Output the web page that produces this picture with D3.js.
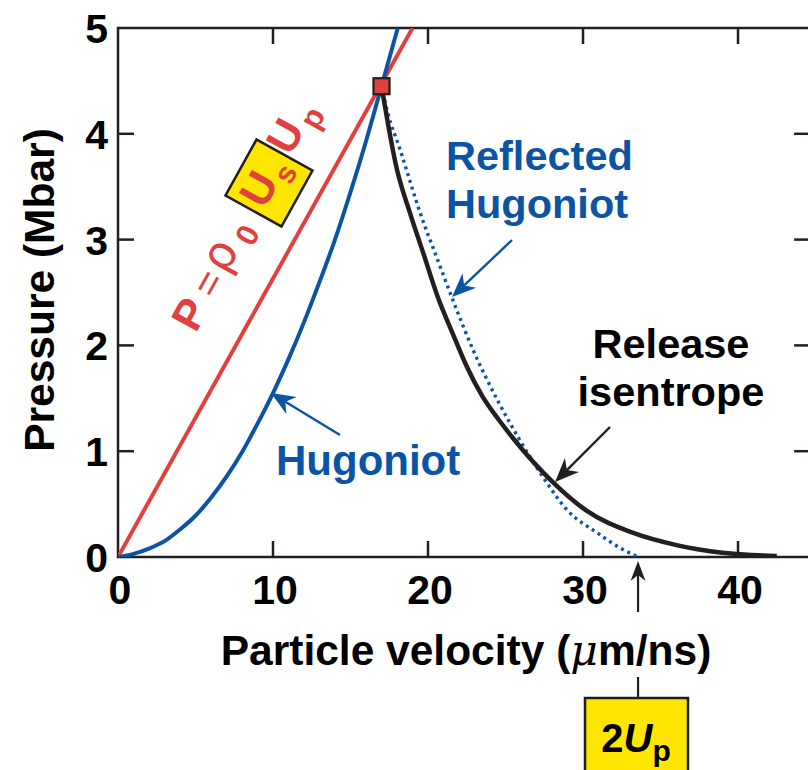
<!DOCTYPE html>
<html><head><meta charset="utf-8">
<script src="https://cdn.jsdelivr.net/npm/d3@7"></script>
<style>
body{margin:0;background:#fff;}
svg{display:block;font-family:"Liberation Sans",Arial,Helvetica,sans-serif;}
</style></head>
<body>
<svg id="c" width="808" height="770"></svg>
<script>
// ---- data ----
const xTicks = [0, 10, 20, 30, 40];
const yTicks = [0, 1, 2, 3, 4, 5];
const lineUp = [0, 19.0];          // P = rho0 Us Up (straight line)
const lineP  = [0, 5.0];
const hugUp = [0, 1, 2, 3, 4, 5, 6, 7, 8, 9, 10, 11, 12, 13, 14, 15, 16, 17, 18.05];
const hugP  = [0, 0.03, 0.08, 0.15, 0.26, 0.39, 0.56, 0.76, 0.99, 1.26, 1.55, 1.87, 2.22, 2.6, 3.0, 3.45, 3.93, 4.45, 5.0];
const relUp = [17.0, 18.0, 18.84, 19.7, 20.6, 21.6, 22.5, 23.5, 24.6, 25.5, 28.1, 30.2, 33.2, 36.1, 39.0, 42.5];
const relP  = [4.45, 3.66, 3.25, 2.87, 2.47, 2.11, 1.80, 1.52, 1.29, 1.12, 0.70, 0.44, 0.23, 0.11, 0.04, 0.01];
const refUp = [17.0, 17.4, 18.2, 19.5, 20.8, 21.6, 22.9, 24.6, 25.9, 27.4, 29.0, 30.9, 32.4, 33.55];
const refP  = [4.45, 4.2, 3.85, 3.25, 2.74, 2.43, 1.96, 1.45, 1.11, 0.76, 0.44, 0.23, 0.085, 0.0];
const statePoint = [17.0, 4.45];
const twoUp = 33.55;

const RED = "#e2403f", BLUE = "#0b54a4", BLACK = "#231f20", YELLOW = "#ffe600";
const svg = d3.select("#c");
const x = d3.scaleLinear().domain([0, 44.65]).range([118, 810.1]);
const y = d3.scaleLinear().domain([0, 5]).range([557, 28]);
const XMAX = 44.65;

svg.append("defs").append("clipPath").attr("id", "clip").append("rect")
  .attr("x", 118).attr("y", 28).attr("width", 700).attr("height", 529);

// ---- frame and ticks ----
const frame = svg.append("g").attr("stroke", BLACK).attr("stroke-width", 2.5).attr("fill", "none");
frame.append("rect").attr("x", x(0)).attr("y", y(5)).attr("width", x(XMAX) - x(0)).attr("height", y(0) - y(5));
xTicks.filter(d => d > 0).forEach(d => {
  frame.append("line").attr("x1", x(d)).attr("x2", x(d)).attr("y1", y(0)).attr("y2", y(0) - 16);
  frame.append("line").attr("x1", x(d)).attr("x2", x(d)).attr("y1", y(5)).attr("y2", y(5) + 16);
});
yTicks.filter(d => d > 0 && d < 5).forEach(d => {
  frame.append("line").attr("x1", x(0)).attr("x2", x(0) + 16).attr("y1", y(d)).attr("y2", y(d));
  frame.append("line").attr("x1", x(XMAX)).attr("x2", x(XMAX) - 16).attr("y1", y(d)).attr("y2", y(d));
});

const tl = svg.append("g").attr("font-weight", "bold").attr("font-size", 41).attr("fill", "#000");
xTicks.forEach(d => tl.append("text").attr("x", x(d) + 2).attr("y", y(0) + 47).attr("text-anchor", "middle").text(d));
yTicks.forEach(d => tl.append("text").attr("x", 108).attr("y", y(d) + 15).attr("text-anchor", "end").text(d));

// axis titles
svg.append("text").attr("x", 466).attr("y", 665).attr("text-anchor", "middle")
  .attr("font-weight", "bold").attr("font-size", 42.5).attr("fill", "#000")
  .call(t => {
    t.append("tspan").text("Particle velocity (");
    t.append("tspan").attr("font-style", "italic").attr("font-family", "'DejaVu Serif',serif").attr("font-weight", "normal").text("μ");
    t.append("tspan").text("m/ns)");
  });
svg.append("text").attr("transform", "translate(54,290) rotate(-90)").attr("text-anchor", "middle")
  .attr("font-weight", "bold").attr("font-size", 42.5).attr("fill", "#000").text("Pressure (Mbar)");

// ---- curves ----
const line = d3.line().x(d => x(d[0])).y(d => y(d[1]));
const curve = d3.line().x(d => x(d[0])).y(d => y(d[1])).curve(d3.curveMonotoneX);
const plot = svg.append("g").attr("clip-path", "url(#clip)").attr("fill", "none");
plot.append("path").datum(d3.zip(lineUp, lineP)).attr("d", line).attr("stroke", RED).attr("stroke-width", 4);
plot.append("path").datum(d3.zip(hugUp, hugP)).attr("d", curve).attr("stroke", BLUE).attr("stroke-width", 4);
plot.append("path").datum(d3.zip(refUp, refP)).attr("d", curve).attr("stroke", BLUE).attr("stroke-width", 3.4)
  .attr("stroke-dasharray", "3,4");
plot.append("path").datum(d3.zip(relUp, relP)).attr("d", curve).attr("stroke", BLACK).attr("stroke-width", 4.5);

// state point
svg.append("rect").attr("x", x(statePoint[0]) - 8).attr("y", y(statePoint[1]) - 8)
  .attr("width", 16).attr("height", 16).attr("fill", RED).attr("stroke", BLACK).attr("stroke-width", 2.2);

// ---- annotations ----
function arrow(x1, y1, x2, y2, color, w, hl, hw) {
  hl = hl || 24; hw = hw || 10;
  const a = Math.atan2(y2 - y1, x2 - x1);
  const ux = Math.cos(a), uy = Math.sin(a), nx = -uy, ny = ux;
  const bx = x2 - ux * hl, by = y2 - uy * hl;
  const mx = x2 - ux * hl * 0.7, my = y2 - uy * hl * 0.7;
  svg.append("line").attr("x1", x1).attr("y1", y1).attr("x2", mx).attr("y2", my)
    .attr("stroke", color).attr("stroke-width", w || 2.4);
  svg.append("path").attr("d",
    `M${x2},${y2} L${bx + nx * hw},${by + ny * hw} L${mx},${my} L${bx - nx * hw},${by - ny * hw} Z`)
    .attr("fill", color);
}
// Hugoniot label
svg.append("text").attr("x", 276).attr("y", 475).attr("font-weight", "bold").attr("font-size", 42)
  .attr("fill", BLUE).text("Hugoniot");
arrow(340, 435, 271, 393, BLUE);
// Reflected Hugoniot label
const rh = svg.append("text").attr("font-weight", "bold").attr("font-size", 41.5).attr("fill", BLUE);
rh.append("tspan").attr("x", 446).attr("y", 170).text("Reflected");
rh.append("tspan").attr("x", 446).attr("y", 218).text("Hugoniot");
arrow(512, 240, 452, 297, BLUE);
// Release isentrope label
const ri = svg.append("text").attr("font-weight", "bold").attr("font-size", 41.5).attr("fill", "#000").attr("text-anchor", "middle");
ri.append("tspan").attr("x", 671).attr("y", 358).text("Release");
ri.append("tspan").attr("x", 671).attr("y", 406).text("isentrope");
arrow(610, 427, 555, 482, BLACK);

// 2Up arrow and box
arrow(x(twoUp), 612, x(twoUp), 561, BLACK, 2.2, 20, 7.5);
svg.append("line").attr("x1", x(twoUp)).attr("x2", x(twoUp)).attr("y1", 677).attr("y2", 698)
  .attr("stroke", BLACK).attr("stroke-width", 2.2);
svg.append("rect").attr("x", 585).attr("y", 698).attr("width", 103).attr("height", 80)
  .attr("fill", YELLOW).attr("stroke", BLACK).attr("stroke-width", 2.5);
svg.append("text").attr("x", 636).attr("y", 752).attr("text-anchor", "middle")
  .attr("font-weight", "bold").attr("font-size", 40).attr("fill", "#000")
  .call(t => {
    t.append("tspan").text("2");
    t.append("tspan").attr("font-style", "italic").text("U");
    t.append("tspan").attr("font-size", 30).attr("dy", 9).text("p");
  });

// rotated formula label P = rho0 Us Up
const g = svg.append("g").attr("transform", "translate(269,183) rotate(-61)")
  .attr("fill", RED).attr("font-weight", "bold").attr("text-anchor", "middle");
g.append("rect").attr("x", -32).attr("y", -32).attr("width", 64).attr("height", 64)
  .attr("fill", YELLOW).attr("stroke", BLACK).attr("stroke-width", 2.5);
g.append("text").attr("x", -153).attr("y", 9).attr("font-size", 43).text("P");
g.append("text").attr("x", -117).attr("y", 9).attr("font-size", 40).attr("font-weight", "normal").text("=");
g.append("text").attr("x", -87).attr("y", 7).attr("font-size", 46).attr("font-family", "'DejaVu Sans',sans-serif").attr("font-weight", "normal").text("ρ");
g.append("text").attr("x", -56).attr("y", 17).attr("font-size", 31).text("0");
g.append("text").attr("x", -10).attr("y", 9).attr("font-size", 44).text("U");
g.append("text").attr("x", 16).attr("y", 20).attr("font-size", 30).text("s");
g.append("text").attr("x", 49).attr("y", 6).attr("font-size", 43).text("U");
g.append("text").attr("x", 78).attr("y", 17).attr("font-size", 31).text("p");
</script>
</body></html>
